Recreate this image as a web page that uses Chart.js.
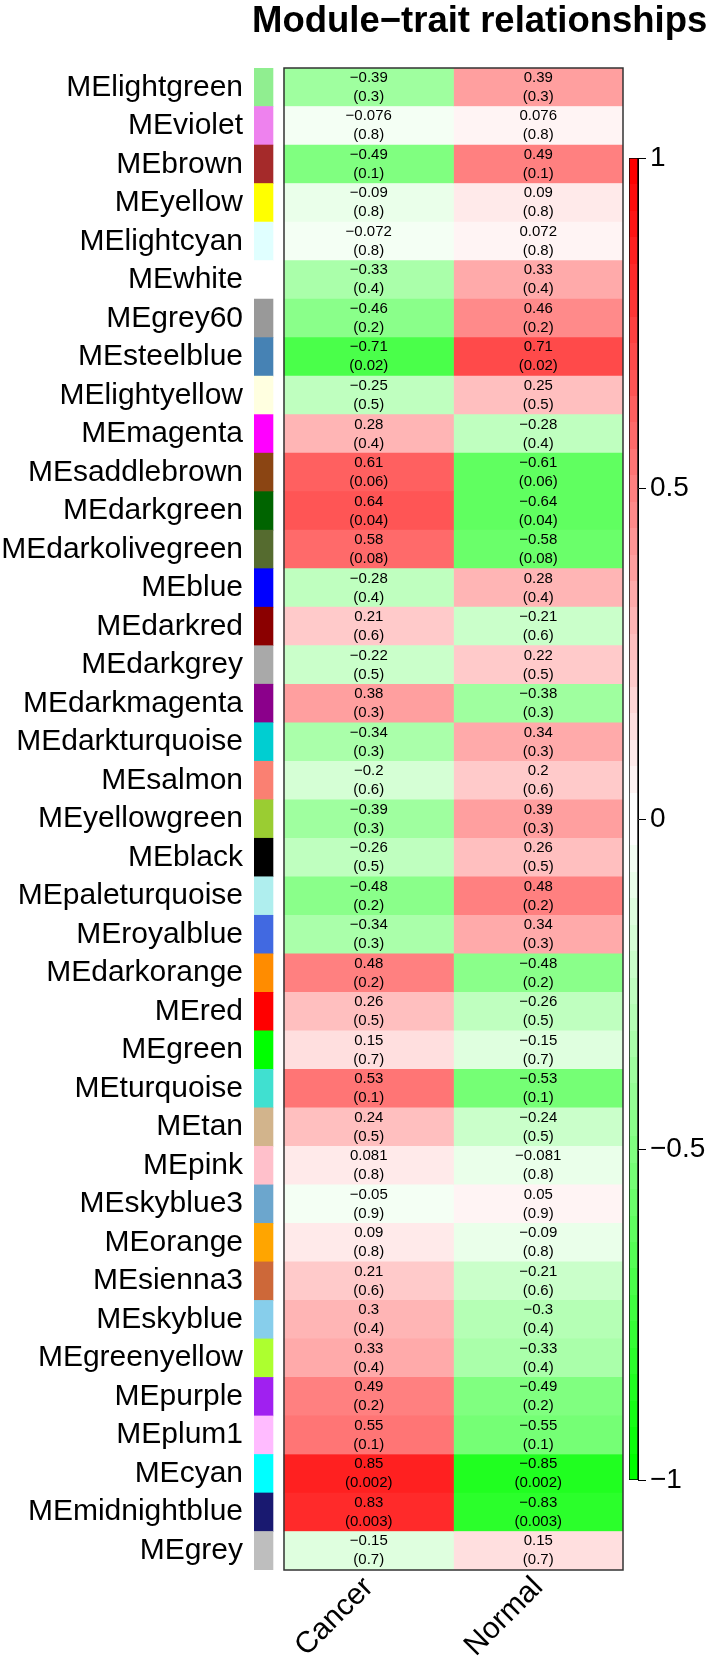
<!DOCTYPE html>
<html>
<head>
<meta charset="utf-8">
<title>Module-trait relationships</title>
<script src="https://cdn.jsdelivr.net/npm/chart.js@4.4.1/dist/chart.umd.min.js"></script>
<style>
  html, body { margin: 0; padding: 0; background: #fff; }
  #wrap { position: relative; width: 709px; height: 1667px; overflow: hidden; }
  #heatmap { position: absolute; left: 0; top: 0; }
  #colorbar { position: absolute; left: 620px; top: 0; }
</style>
</head>
<body>
<div id="wrap">
  <canvas id="heatmap" width="709" height="1667" style="width:709px;height:1667px"></canvas>
  <canvas id="colorbar" width="89" height="1667" style="width:89px;height:1667px"></canvas>
</div>
<script>
// module eigengenes (rows, top to bottom)
const modules = [
  'MElightgreen', 'MEviolet', 'MEbrown', 'MEyellow', 'MElightcyan', 'MEwhite',
  'MEgrey60', 'MEsteelblue', 'MElightyellow', 'MEmagenta', 'MEsaddlebrown',
  'MEdarkgreen', 'MEdarkolivegreen', 'MEblue', 'MEdarkred', 'MEdarkgrey',
  'MEdarkmagenta', 'MEdarkturquoise', 'MEsalmon', 'MEyellowgreen', 'MEblack',
  'MEpaleturquoise', 'MEroyalblue', 'MEdarkorange', 'MEred', 'MEgreen',
  'MEturquoise', 'MEtan', 'MEpink', 'MEskyblue3', 'MEorange', 'MEsienna3',
  'MEskyblue', 'MEgreenyellow', 'MEpurple', 'MEplum1', 'MEcyan',
  'MEmidnightblue', 'MEgrey'
];

const traits = ['Cancer', 'Normal'];

const cancerCor = [
  -0.39, -0.076, -0.49, -0.09, -0.072, -0.33, -0.46, -0.71, -0.25, 0.28,
  0.61, 0.64, 0.58, -0.28, 0.21, -0.22, 0.38, -0.34, -0.2, -0.39,
  -0.26, -0.48, -0.34, 0.48, 0.26, 0.15, 0.53, 0.24, 0.081, -0.05,
  0.09, 0.21, 0.3, 0.33, 0.49, 0.55, 0.85, 0.83, -0.15
];

const normalCor = [
  0.39, 0.076, 0.49, 0.09, 0.072, 0.33, 0.46, 0.71, 0.25, -0.28,
  -0.61, -0.64, -0.58, 0.28, -0.21, 0.22, -0.38, 0.34, 0.2, 0.39,
  0.26, 0.48, 0.34, -0.48, -0.26, -0.15, -0.53, -0.24, -0.081, 0.05,
  -0.09, -0.21, -0.3, -0.33, -0.49, -0.55, -0.85, -0.83, 0.15
];

const pValues = [
  0.3, 0.8, 0.1, 0.8, 0.8, 0.4, 0.2, 0.02, 0.5, 0.4,
  0.06, 0.04, 0.08, 0.4, 0.6, 0.5, 0.3, 0.3, 0.6, 0.3,
  0.5, 0.2, 0.3, 0.2, 0.5, 0.7, 0.1, 0.5, 0.8, 0.9,
  0.8, 0.6, 0.4, 0.4, 0.2, 0.1, 0.002, 0.003, 0.7
];

const colorbarTicks = [-1, -0.5, 0, 0.5, 1];

// R colour names used by the module strip
const rColors = {
  lightgreen: '#90EE90', violet: '#EE82EE', brown: '#A52A2A', yellow: '#FFFF00',
  lightcyan: '#E0FFFF', white: '#FFFFFF', grey60: '#999999', steelblue: '#4682B4',
  lightyellow: '#FFFFE0', magenta: '#FF00FF', saddlebrown: '#8B4513',
  darkgreen: '#006400', darkolivegreen: '#556B2F', blue: '#0000FF',
  darkred: '#8B0000', darkgrey: '#A9A9A9', darkmagenta: '#8B008B',
  darkturquoise: '#00CED1', salmon: '#FA8072', yellowgreen: '#9ACD32',
  black: '#000000', paleturquoise: '#AFEEEE', royalblue: '#4169E1',
  darkorange: '#FF8C00', red: '#FF0000', green: '#00FF00', turquoise: '#40E0D0',
  tan: '#D2B48C', pink: '#FFC0CB', skyblue3: '#6CA6CD', orange: '#FFA500',
  sienna3: '#CD6839', skyblue: '#87CEEB', greenyellow: '#ADFF2F',
  purple: '#A020F0', plum1: '#FFBBFF', cyan: '#00FFFF', midnightblue: '#191970',
  grey: '#BEBEBE'
};

Chart.defaults.font.family = '"Liberation Sans", Arial, Helvetica, sans-serif';
Chart.defaults.color = '#000';

// greenWhiteRed(50), binned over -1..1
function corColor(v) {
  const bin = Math.min(49, Math.max(0, Math.floor((v + 1) / 2 * 50)));
  let r, g, b;
  if (bin < 25) { r = b = bin / 24; g = 1; }
  else { r = 1; g = b = 1 - (bin - 25) / 24; }
  return 'rgb(' + Math.round(r * 255) + ',' + Math.round(g * 255) + ',' + Math.round(b * 255) + ')';
}

const fmt = v => String(v).replace('-', '\u2212');

// left edge of x scale and module strip, in column units
const X_MIN = -0.177;
const STRIP_TO = -0.065;

const cellText = {
  id: 'cellText',
  afterDatasetsDraw(chart) {
    const ctx = chart.ctx;
    ctx.save();
    ctx.font = '15px "Liberation Sans", Arial, sans-serif';
    ctx.fillStyle = '#000';
    ctx.textAlign = 'center';
    ctx.textBaseline = 'middle';
    [cancerCor, normalCor].forEach((vals, di) => {
      chart.getDatasetMeta(di).data.forEach((bar, i) => {
        const cx = (bar.x + bar.base) / 2;
        ctx.fillText(fmt(vals[i]), cx, bar.y - 9.5);
        ctx.fillText('(' + fmt(pValues[i]) + ')', cx, bar.y + 9.5);
      });
    });
    // frame around the heatmap cells
    const xs = chart.scales.x;
    const l = xs.getPixelForValue(0), r = xs.getPixelForValue(traits.length);
    const a = chart.chartArea;
    ctx.strokeStyle = '#333';
    ctx.lineWidth = 1.5;
    ctx.strokeRect(l, a.top, r - l, a.bottom - a.top);
    ctx.restore();
  }
};

const titleText = {
  id: 'titleText',
  afterDraw(chart) {
    const ctx = chart.ctx;
    ctx.save();
    ctx.font = 'bold 36.5px "Liberation Sans", Arial, sans-serif';
    ctx.fillStyle = '#000';
    ctx.textAlign = 'left';
    ctx.textBaseline = 'alphabetic';
    ctx.fillText('Module\u2212trait relationships', 252, 32);
    ctx.restore();
  }
};

new Chart(document.getElementById('heatmap'), {
  type: 'bar',
  data: {
    labels: modules,
    datasets: [
      {
        label: traits[0],
        data: cancerCor.map(() => [0, 1]),
        backgroundColor: cancerCor.map(corColor),
        grouped: false, barPercentage: 1, categoryPercentage: 1
      },
      {
        label: traits[1],
        data: normalCor.map(() => [1, 2]),
        backgroundColor: normalCor.map(corColor),
        grouped: false, barPercentage: 1, categoryPercentage: 1
      },
      {
        label: 'module',
        data: modules.map(() => [X_MIN, STRIP_TO]),
        backgroundColor: modules.map(m => rColors[m.slice(2)]),
        grouped: false, barPercentage: 1, categoryPercentage: 1
      }
    ]
  },
  options: {
    indexAxis: 'y',
    responsive: false,
    animation: false,
    layout: { padding: { top: 68, right: 86, left: 0, bottom: 0 } },
    plugins: { legend: { display: false }, tooltip: { enabled: false } },
    scales: {
      x: {
        type: 'linear',
        min: X_MIN,
        max: traits.length,
        grid: { display: false, drawTicks: false },
        border: { display: false },
        afterBuildTicks: s => { s.ticks = traits.map((t, i) => ({ value: i + 0.5 })); },
        ticks: {
          autoSkip: false, minRotation: 45, maxRotation: 45, padding: 0,
          font: { size: 30 },
          callback: v => traits[Math.floor(v)]
        },
        afterFit: s => { s.height = 97; }
      },
      y: {
        grid: { display: false, drawTicks: false },
        border: { display: false },
        ticks: { autoSkip: false, padding: 11, font: { size: 30 } },
        afterFit: s => { s.width = 254; }
      }
    }
  },
  plugins: [cellText, titleText]
});

function colorbarFill(context) {
  const chart = context.chart;
  const ys = chart.scales.y;
  if (!ys || !chart.chartArea) return '#fff';
  const top = ys.getPixelForValue(1), bottom = ys.getPixelForValue(-1);
  const g = chart.ctx.createLinearGradient(0, bottom, 0, top);
  for (let k = 0; k < 50; k++) {
    const c = corColor(-1 + (k + 0.5) * 0.04);
    g.addColorStop(k / 50, c);
    g.addColorStop((k + 1) / 50, c);
  }
  return g;
}

new Chart(document.getElementById('colorbar'), {
  type: 'bar',
  data: {
    labels: [''],
    datasets: [{
      data: [[colorbarTicks[0], colorbarTicks[colorbarTicks.length - 1]]],
      backgroundColor: colorbarFill,
      borderColor: '#000',
      borderWidth: 1,
      borderSkipped: false,
      barPercentage: 1,
      categoryPercentage: 1
    }]
  },
  options: {
    responsive: false,
    animation: false,
    layout: { padding: { top: 158, bottom: 187, left: 9, right: 0 } },
    plugins: { legend: { display: false }, tooltip: { enabled: false } },
    scales: {
      x: { display: false },
      y: {
        position: 'right',
        min: -1,
        max: 1,
        afterBuildTicks: s => { s.ticks = colorbarTicks.map(v => ({ value: v })); },
        ticks: { padding: 4, font: { size: 28 }, callback: v => fmt(v) },
        grid: { drawOnChartArea: false, drawTicks: true, tickLength: 8, color: '#000' },
        border: { display: true, color: '#000' },
        afterFit: s => { s.width = 71; }
      }
    }
  }
});
</script>
</body>
</html>
